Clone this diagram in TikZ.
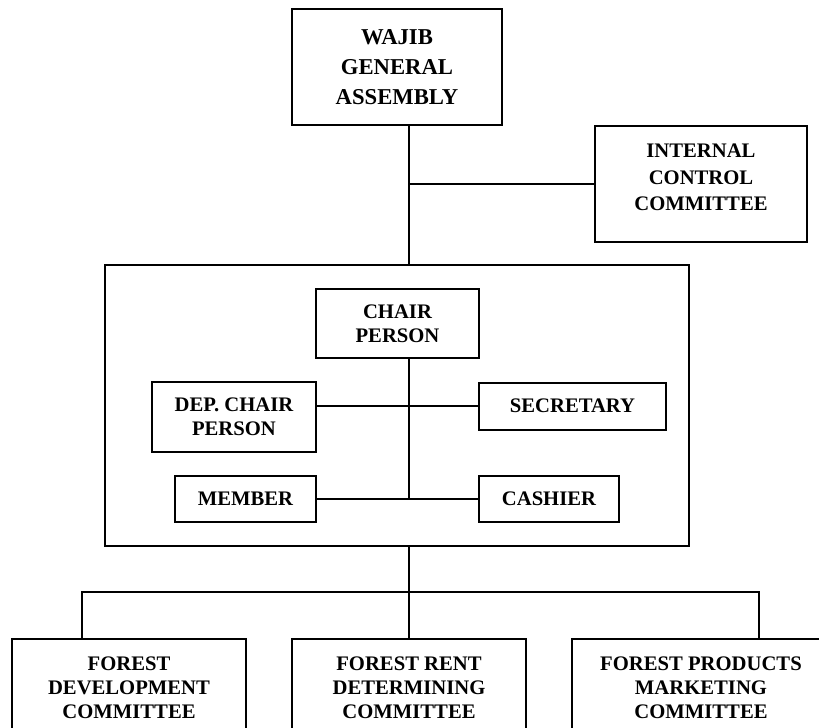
\documentclass[tikz,border=0pt]{standalone}
\usepackage{fontspec}
\setmainfont{Liberation Serif}

\begin{document}
\begin{tikzpicture}[x=0.75pt, y=-0.75pt, line width=1.5pt,
  box/.style={draw, align=center, inner sep=0pt,
    font=\bfseries\fontsize{15.5}{18}\selectfont},
  bigbox/.style={box, font=\bfseries\fontsize{17}{22.5}\selectfont},
  sidebox/.style={box, text depth=10pt, font=\bfseries\fontsize{15.5}{20}\selectfont}]
  \useasboundingbox (0,0) rectangle (819,728);
  \clip (0,0) rectangle (819,728);

  % top level
  \node[bigbox, minimum width=157.5pt, minimum height=87pt] (assembly) at (397,67)
    {WAJIB\\GENERAL\\ASSEMBLY};
  \node[sidebox, minimum width=159pt, minimum height=87pt] (control) at (701,184)
    {INTERNAL\\CONTROL\\COMMITTEE};

  % board
  \node[draw, minimum width=438pt, minimum height=210.75pt] (board) at (397,405.5) {};
  \node[box, minimum width=122.25pt, minimum height=51.75pt] (chair) at (397.5,323.5)
    {CHAIR\\PERSON};
  \node[box, minimum width=123pt, minimum height=52.5pt] (depchair) at (234,417)
    {DEP. CHAIR\\PERSON};
  \node[box, minimum width=140.25pt, minimum height=35.25pt] (secretary) at (572.5,406)
    {SECRETARY};
  \node[box, minimum width=105.75pt, minimum height=34.5pt] (member) at (245.5,499)
    {MEMBER};
  \node[box, minimum width=105pt, minimum height=34.5pt] (cashier) at (549,499)
    {CASHIER};

  % committees
  \node[box, minimum width=175.5pt, minimum height=73.5pt] (devcom) at (129,688)
    {FOREST\\DEVELOPMENT\\COMMITTEE};
  \node[box, minimum width=175.5pt, minimum height=73.5pt] (rentcom) at (409,688)
    {FOREST RENT\\DETERMINING\\COMMITTEE};
  \node[box, minimum width=193.5pt, minimum height=73.5pt] (marketcom) at (701,688)
    {FOREST PRODUCTS\\MARKETING\\COMMITTEE};

  % connectors
  \coordinate (spine) at (409,0);
  \coordinate (bus) at (409,592);
  \coordinate (devdrop) at (82,592);
  \coordinate (marketdrop) at (759,592);

  \draw (spine |- assembly.south) -- (spine |- board.north);
  \draw (spine |- control.west) -- (control.west);
  \draw (spine |- chair.south) -- (spine |- member.east);
  \draw (depchair.east |- secretary.west) -- (secretary.west);
  \draw (member.east) -- (cashier.west);
  \draw (spine |- board.south) -- (bus) -- (rentcom.north);
  \draw (devdrop |- devcom.north) -- (devdrop) -- (marketdrop) -- (marketdrop |- marketcom.north);
\end{tikzpicture}
\end{document}
